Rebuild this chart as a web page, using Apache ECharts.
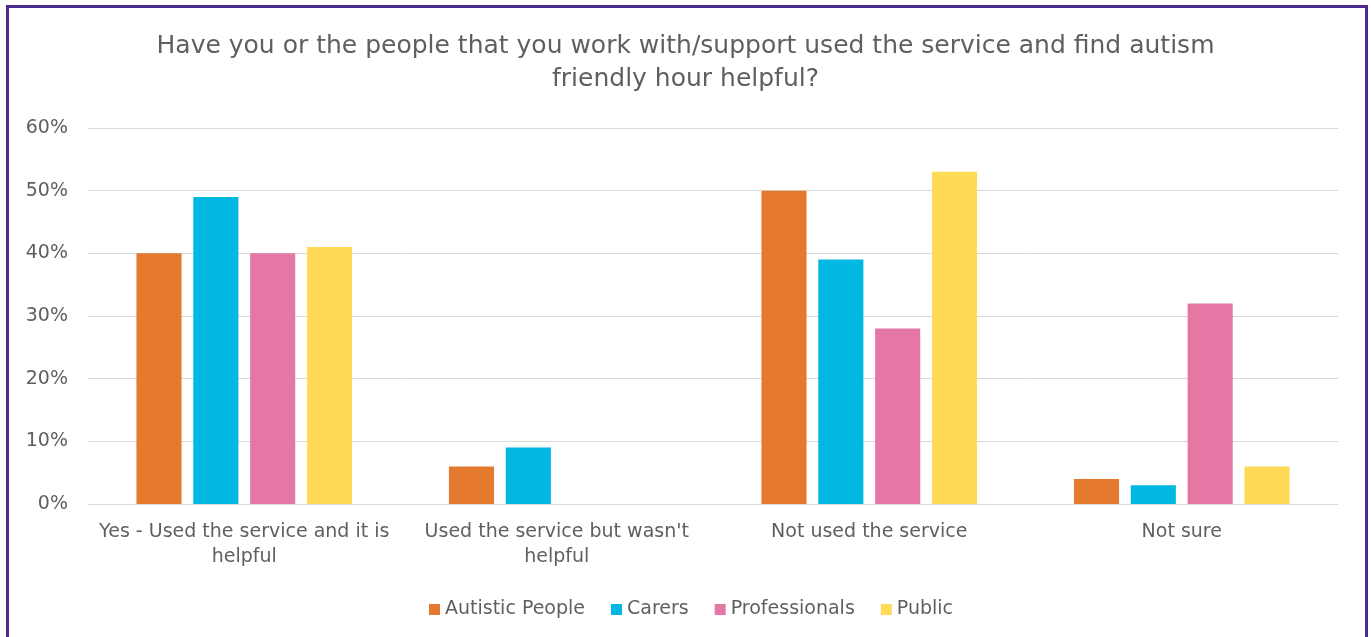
<!DOCTYPE html>
<html>
<head>
<meta charset="utf-8">
<script src="https://cdn.jsdelivr.net/npm/echarts@6/dist/echarts.min.js"></script>
<style>
html,body{margin:0;padding:0;background:#fff;}
#wrap{position:relative;width:1371px;height:637px;overflow:hidden;}
#chart{position:absolute;left:0;top:0;width:1371px;height:637px;}
#frame{position:absolute;left:6px;top:5px;width:1356px;height:700px;border:3px solid #4b2c8c;pointer-events:none;}
</style>
</head>
<body>
<div id="wrap"><div id="chart"></div><div id="frame"></div></div>
<script>
const categories = ["Yes - Used the service and it is\nhelpful", "Used the service but wasn't\nhelpful", "Not used the service", "Not sure"];
const autisticPeople = [40, 6, 50, 4];
const carers = [49, 9, 39, 3];
const professionals = [40, 0, 28, 32];
const publicVals = [41, 0, 53, 6];
const yTicks = [0, 10, 20, 30, 40, 50, 60];

const FONT = '"DejaVu Sans", sans-serif';
const TXT = '#5f5f5f';
const chart = echarts.init(document.getElementById('chart'), null, {renderer: 'canvas'});
function s(name, data, color) {
  return {name, type: 'bar', data, itemStyle: {color}, barGap: '26%', barCategoryGap: '31%'};
}
chart.setOption({
  animation: false,
  backgroundColor: '#fff',
  title: {
    text: 'Have you or the people that you work with/support used the service and find autism\nfriendly hour helpful?',
    left: 'center', top: 25,
    textStyle: {fontFamily: FONT, fontSize: 25, fontWeight: 'normal', color: TXT, lineHeight: 33}
  },
  legend: {
    top: 595, left: 424, itemWidth: 11, itemHeight: 11, itemGap: 26,
    icon: 'rect',
    textStyle: {fontFamily: FONT, fontSize: 19, color: TXT, padding: [0, 0, 0, 0]}
  },
  grid: {left: 88, right: 33, top: 128, bottom: 133},
  xAxis: {
    type: 'category', data: categories,
    axisLine: {lineStyle: {color: '#d9d9d9', width: 1}},
    axisTick: {show: false},
    axisLabel: {fontFamily: FONT, fontSize: 19, color: TXT, margin: 16, lineHeight: 25, interval: 0}
  },
  yAxis: {
    type: 'value', min: yTicks[0], max: yTicks[yTicks.length - 1], interval: 10,
    axisLine: {show: false}, axisTick: {show: false},
    splitLine: {lineStyle: {color: '#d9d9d9', width: 1}},
    axisLabel: {fontFamily: FONT, fontSize: 19, color: TXT, margin: 20, formatter: '{value}%'}
  },
  series: [
    s('Autistic People', autisticPeople, '#E57A2F'),
    s('Carers', carers, '#00B8E2'),
    s('Professionals', professionals, '#E477A3'),
    s('Public', publicVals, '#FFDA57')
  ]
});
</script>
</body>
</html>
